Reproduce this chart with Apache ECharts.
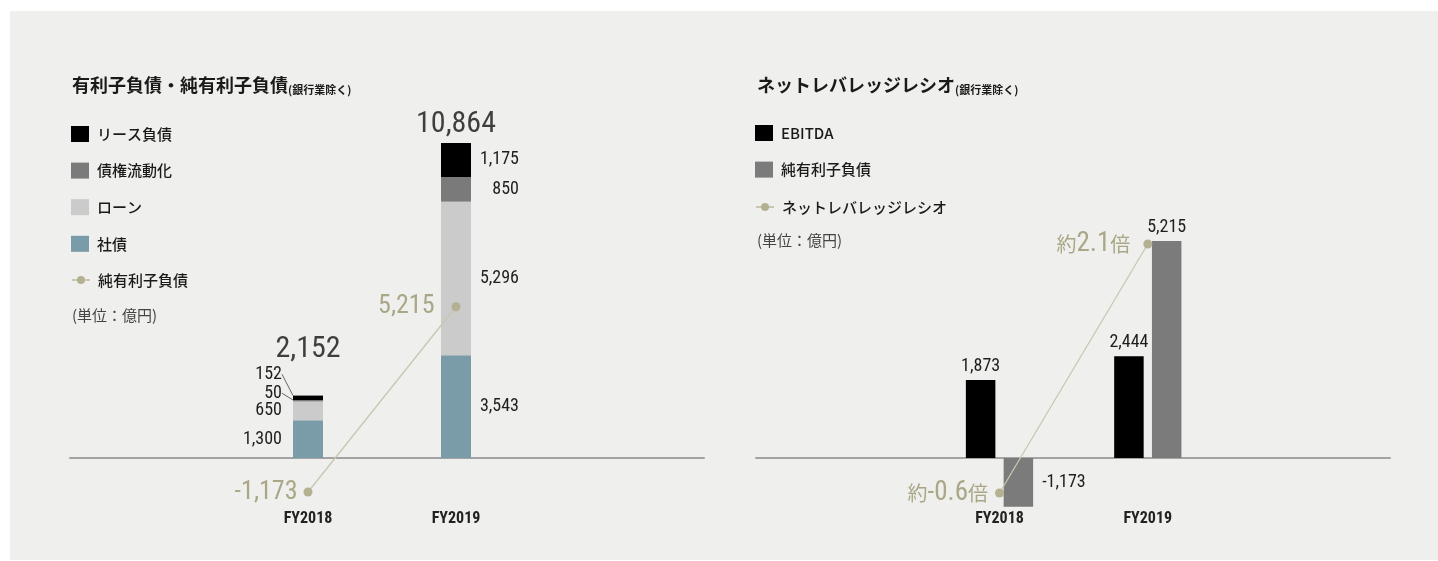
<!DOCTYPE html>
<html><head><meta charset="utf-8">
<script src="https://cdn.jsdelivr.net/npm/echarts@6/dist/echarts.min.js"></script>
<style>
html,body{margin:0;padding:0;background:#fff;}
#bg{position:absolute;left:10px;top:11px;width:1428px;height:549px;background:#efefed;}
#chart{position:absolute;left:0;top:0;width:1438px;height:561px;}
</style></head><body>
<div id="bg"></div><div id="chart"></div>
<script>
// ---- data ----
const categories = ['FY2018', 'FY2019'];
const leaseDebt = [152, 1175];        // リース負債
const securitization = [50, 850];     // 債権流動化
const loans = [650, 5296];            // ローン
const bonds = [1300, 3543];           // 社債
const netDebtLeft = [-1173, 5215];    // 純有利子負債 (line, left chart)
const ebitda = [1873, 2444];          // EBITDA
const netDebtRight = [-1173, 5215];   // 純有利子負債 (bar, right chart)
const leverageRatio = [-0.6, 2.1];    // ネットレバレッジレシオ
const totals = categories.map((_, i) => leaseDebt[i] + securitization[i] + loans[i] + bonds[i]);

// ---- styles ----
const NUM = "'Liberation Sans Narrow','Roboto Condensed','DejaVu Sans Condensed',sans-serif";
const JP = "'Noto Sans CJK JP','Noto Sans',sans-serif";
const KHAKI = '#aaa786';
const fmt = v => Number(v).toLocaleString('en-US');

function segData(arr, extra0) {
  return arr.map((v, i) => {
    const item = {
      value: v,
      label: i === 0 ? { position: 'left', distance: 11 } : { position: 'right', distance: 48, align: 'right' }
    };
    if (i === 0 && extra0) Object.assign(item, extra0);
    return item;
  });
}
const segLabel = { show: true, formatter: p => fmt(p.value), fontSize: 18, color: '#1e1e1e', fontFamily: NUM };
const leader = { labelLine: { show: true, smooth: false, length2: 0, lineStyle: { color: '#444', width: 0.8 } } };

const chart = echarts.init(document.getElementById('chart'));
const legendNames = { NetDebtR: '純有利子負債' };
const legendText = { fontSize: 15, color: '#1a1a1a', fontFamily: JP, fontWeight: 500, lineHeight: 16, padding: [0, 0, 0, 3] };

const LEFT_Y = { min: -1600, max: 12000 };
const RIGHT_Y = { min: -1100, max: 6000 };
const frameX = g => ({
  gridIndex: g, type: 'value', min: 0, max: 1,
  axisLabel: { show: false }, axisTick: { show: false }, splitLine: { show: false },
  axisLine: { show: true, onZero: true, lineStyle: { color: '#a3a3a3', width: 2 } }
});
const catX = g => ({
  gridIndex: g, type: 'category', data: categories, boundaryGap: true,
  axisLine: { show: false }, axisTick: { show: false }, splitLine: { show: false },
  axisLabel: { margin: 7, fontSize: 16, fontWeight: 'bold', color: '#222', fontFamily: NUM }
});
const hiddenY = (g, r) => ({ gridIndex: g, type: 'value', min: r.min, max: r.max, show: false, splitLine: { show: false } });

const option = {
  animation: false,
  title: [
    { left: 72, top: 73, padding: 0,
      text: '{a|有利子負債・純有利子負債}{b|(銀行業除く)}',
      textStyle: { rich: {
        a: { fontSize: 18, fontWeight: 'bold', color: '#1a1a1a', fontFamily: JP, lineHeight: 24 },
        b: { fontSize: 11, fontWeight: 'bold', color: '#1a1a1a', fontFamily: JP, lineHeight: 24, verticalAlign: 'bottom', padding: [0, 0, 2, 0] } } } },
    { left: 757, top: 73, padding: 0,
      text: '{a|ネットレバレッジレシオ}{b|(銀行業除く)}',
      textStyle: { rich: {
        a: { fontSize: 18, fontWeight: 'bold', color: '#1a1a1a', fontFamily: JP, lineHeight: 24 },
        b: { fontSize: 11, fontWeight: 'bold', color: '#1a1a1a', fontFamily: JP, lineHeight: 24, verticalAlign: 'bottom', padding: [0, 0, 2, 0] } } } },
    { left: 72, top: 305, padding: 0, text: '(単位：億円)',
      textStyle: { fontSize: 15, fontWeight: 'normal', color: '#444', fontFamily: JP, lineHeight: 20 } },
    { left: 757, top: 230, padding: 0, text: '(単位：億円)',
      textStyle: { fontSize: 15, fontWeight: 'normal', color: '#444', fontFamily: JP, lineHeight: 20 } }
  ],
  legend: [
    { left: 71, top: 126, orient: 'vertical', padding: 0, itemWidth: 18, itemHeight: 16, itemGap: 20.6,
      selectedMode: false, textStyle: legendText,
      data: ['リース負債', '債権流動化', 'ローン', '社債'].map(n => ({ name: n, icon: 'rect' })) },
    { left: 71, top: 272, orient: 'vertical', padding: 0, itemWidth: 18, itemHeight: 10,
      selectedMode: false, textStyle: legendText, data: ['純有利子負債'] },
    { left: 755, top: 125, orient: 'vertical', padding: 0, itemWidth: 18, itemHeight: 16, itemGap: 20.6,
      selectedMode: false, textStyle: legendText, formatter: n => legendNames[n] || n,
      data: ['EBITDA', 'NetDebtR'].map(n => ({ name: n, icon: 'rect' })) },
    { left: 755, top: 199, orient: 'vertical', padding: 0, itemWidth: 18, itemHeight: 10,
      selectedMode: false, textStyle: legendText, data: ['ネットレバレッジレシオ'] }
  ],
  grid: [
    { left: 70, right: 734, top: 110, bottom: 56.6, outerBoundsMode: 'none' },      // left frame
    { left: 234, right: 908, top: 110, bottom: 56.6, outerBoundsMode: 'none' },     // left bars
    { left: 756, right: 48, top: 208.4, bottom: 57.2, outerBoundsMode: 'none' },    // right frame
    { left: 925.35, right: 216.05, top: 208.4, bottom: 57.2, outerBoundsMode: 'none' } // right bars
  ],
  xAxis: [frameX(0), catX(1), frameX(2), catX(3)],
  yAxis: [
    hiddenY(0, LEFT_Y), hiddenY(1, LEFT_Y), hiddenY(2, RIGHT_Y), hiddenY(3, RIGHT_Y),
    { gridIndex: 3, type: 'value', min: -0.717, max: 2.486, show: false, splitLine: { show: false } }
  ],
  series: [
    // ---- left chart ----
    { name: '社債', type: 'bar', stack: 'debt', xAxisIndex: 1, yAxisIndex: 1, barWidth: 30,
      itemStyle: { color: '#7a9ba8' }, label: segLabel, data: segData(bonds) },
    { name: 'ローン', type: 'bar', stack: 'debt', xAxisIndex: 1, yAxisIndex: 1, barWidth: 30,
      itemStyle: { color: '#cbcbcb' }, label: segLabel, data: segData(loans) },
    { name: '債権流動化', type: 'bar', stack: 'debt', xAxisIndex: 1, yAxisIndex: 1, barWidth: 30,
      itemStyle: { color: '#7a7a7a' }, label: segLabel, data: segData(securitization, leader),
      labelLayout: p => p.dataIndex === 0 ? { dy: -7.5 } : null },
    { name: 'リース負債', type: 'bar', stack: 'debt', xAxisIndex: 1, yAxisIndex: 1, barWidth: 30,
      itemStyle: { color: '#000000' }, label: segLabel, data: segData(leaseDebt, leader),
      labelLayout: p => p.dataIndex === 0 ? { dy: -23.6 } : null },
    { name: 'total', type: 'scatter', xAxisIndex: 1, yAxisIndex: 1, symbolSize: 0, silent: true,
      data: totals.map((v, i) => ({ value: v, label: { distance: i === 0 ? 31 : 3 } })),
      label: { show: true, position: 'top', formatter: p => fmt(p.value), fontSize: 30, color: '#111', fontFamily: NUM } },
    { name: '純有利子負債', type: 'line', xAxisIndex: 1, yAxisIndex: 1, z: 5,
      data: netDebtLeft.map((v, i) => ({ value: v, label: { distance: i === 0 ? 6 : 17 } })),
      symbol: 'circle', symbolSize: 9, clip: false,
      lineStyle: { color: '#c9c7b0', width: 1.3 }, itemStyle: { color: '#b4b192' },
      label: { show: true, position: 'left', formatter: p => fmt(p.value), fontSize: 26, color: KHAKI, fontFamily: NUM } },
    // ---- right chart ----
    { name: 'EBITDA', type: 'bar', xAxisIndex: 3, yAxisIndex: 3, barWidth: 29.5, barGap: '28%', clip: false,
      itemStyle: { color: '#000000' }, data: ebitda,
      label: { show: true, position: 'top', distance: 5, formatter: p => fmt(p.value), fontSize: 18, color: '#1e1e1e', fontFamily: NUM } },
    { name: 'NetDebtR', type: 'bar', xAxisIndex: 3, yAxisIndex: 3, barWidth: 29.5, barGap: '28%', clip: false,
      itemStyle: { color: '#7b7b7b' },
      data: netDebtRight.map(v => ({ value: v, label: v < 0 ? { position: 'right', distance: 9 } : { position: 'top', distance: 5 } })),
      label: { show: true, formatter: p => fmt(p.value), fontSize: 18, color: '#1e1e1e', fontFamily: NUM } },
    { name: 'ネットレバレッジレシオ', type: 'line', xAxisIndex: 3, yAxisIndex: 4, z: 5, clip: false,
      data: leverageRatio.map((v, i) => ({ value: v, label: { distance: i === 0 ? 7 : 13 } })),
      symbol: 'circle', symbolSize: 9,
      lineStyle: { color: '#c9c7b0', width: 1.3 }, itemStyle: { color: '#b4b192' },
      label: { show: true, position: 'left', formatter: p => '{s|約}{n|' + p.value + '}{s|倍}',
        rich: { s: { fontSize: 20, color: KHAKI, fontFamily: JP }, n: { fontSize: 27, color: KHAKI, fontFamily: NUM } } } }
  ]
};
chart.setOption(option);
</script>
</body></html>
